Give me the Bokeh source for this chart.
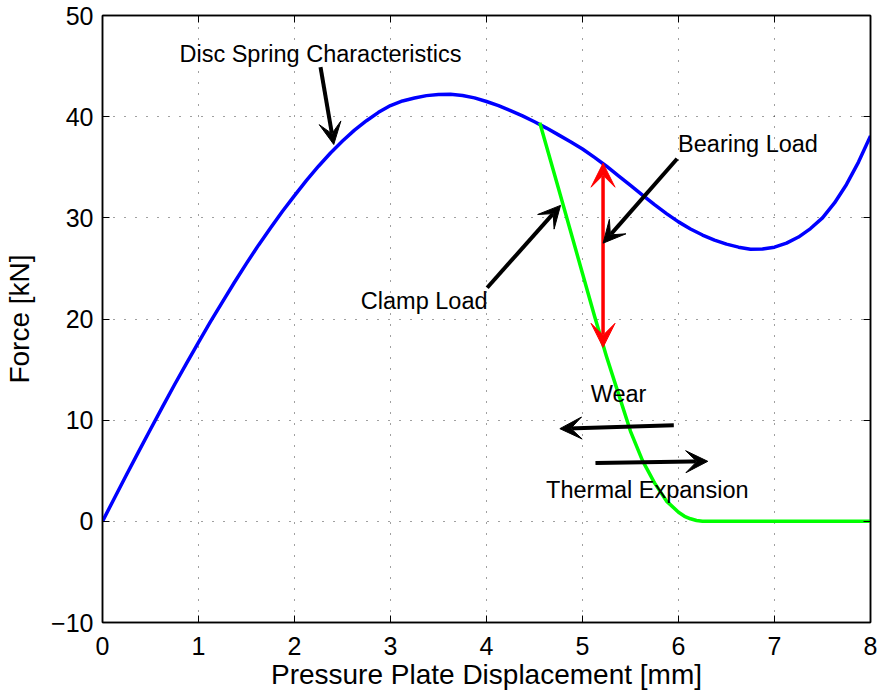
from bokeh.plotting import figure
from bokeh.models import Arrow, VeeHead, FixedTicker, LinearAxis, Range1d, ColumnDataSource
from bokeh.embed import file_html
from bokeh.resources import INLINE
from bokeh.core.properties import value

# Disc spring characteristic (blue)
spring_x = [0, 0.125, 0.25, 0.375, 0.5, 0.625, 0.75, 0.875, 1, 1.125, 1.25, 1.375, 1.5, 1.625, 1.75, 1.875,
            2, 2.125, 2.25, 2.375, 2.5, 2.625, 2.75, 2.875, 3, 3.125, 3.25, 3.375, 3.5, 3.625, 3.75, 3.875,
            4, 4.125, 4.25, 4.375, 4.5, 4.625, 4.75, 4.875, 5, 5.125, 5.25, 5.375, 5.5, 5.625, 5.75, 5.875,
            6, 6.125, 6.25, 6.375, 6.5, 6.625, 6.75, 6.875, 7, 7.125, 7.25, 7.375, 7.5, 7.625, 7.75, 7.875, 8]
spring_y = [0, 2.31, 4.6, 6.86, 9.1, 11.31, 13.5, 15.62, 17.7, 19.73, 21.7, 23.63, 25.5, 27.3, 29.0, 30.65,
            32.2, 33.7, 35.1, 36.41, 37.6, 38.67, 39.6, 40.43, 41.1, 41.55, 41.85, 42.08, 42.2, 42.21, 42.1, 41.86,
            41.5, 41.09, 40.6, 40.08, 39.5, 38.87, 38.2, 37.52, 36.8, 35.97, 35.1, 34.15, 33.2, 32.25, 31.3, 30.42,
            29.6, 28.9, 28.3, 27.8, 27.4, 27.1, 26.9, 26.91, 27.1, 27.5, 28.1, 28.94, 30.0, 31.47, 33.3, 35.51, 38.1]

# Clamp load (green)
clamp_x = [4.555, 4.75, 5.0, 5.125, 5.25, 5.375, 5.5, 5.625, 5.75, 5.875, 6.0, 6.0625, 6.125, 6.1875, 6.25, 8.0]
clamp_y = [39.4, 32.9, 24.5, 20.3, 16.3, 12.6, 8.9, 6.0, 3.8, 2.0, 0.9, 0.5, 0.25, 0.08, 0.0, 0.0]

# Annotation texts (data coordinates, baseline)
note_text = ["Disc Spring Characteristics", "Clamp Load", "Bearing Load", "Wear", "Thermal Expansion"]
note_x = [2.271, 3.351, 6.724, 5.375, 5.675]
note_y = [46.2, 21.75, 37.25, 12.6, 3.05]

# Black arrows: start -> end (head at end)
arrow_x0 = [2.271, 4.007, 5.986, 5.951, 5.135]
arrow_y0 = [44.9, 23.09, 35.84, 9.49, 5.76]
arrow_x1 = [2.409, 4.771, 5.215, 4.764, 6.305]
arrow_y1 = [37.25, 31.23, 27.5, 9.16, 5.93]

# Red double arrow (bearing load range)
bearing_x = [5.214, 5.214]
bearing_y = [17.2, 35.4]

x_ticks = [0, 1, 2, 3, 4, 5, 6, 7, 8]
y_ticks = [-10, 0, 10, 20, 30, 40, 50]

FONT = "Liberation Sans"

p = figure(width=880, height=696, x_range=Range1d(0, 8), y_range=Range1d(-10, 50),
           output_backend="svg", toolbar_location=None,
           min_border_left=102, min_border_right=10, min_border_top=15, min_border_bottom=74)
p.background_fill_color = "white"
p.border_fill_color = "white"
p.outline_line_color = "black"
p.outline_line_width = 1.5

for ax in (p.xaxis[0], p.yaxis[0]):
    ax.major_tick_in = 7
    ax.major_tick_out = 0
    ax.minor_tick_line_color = None
    ax.axis_line_color = "black"
    ax.axis_line_width = 1.5
    ax.major_tick_line_color = "black"
    ax.major_label_text_font = FONT
    ax.major_label_text_font_size = "25px"
    ax.major_label_text_color = "black"
    ax.axis_label_text_font = FONT
    ax.axis_label_text_font_size = "28px"
    ax.axis_label_text_font_style = "normal"
    ax.axis_label_text_color = "black"

p.xaxis[0].ticker = FixedTicker(ticks=x_ticks)
p.yaxis[0].ticker = FixedTicker(ticks=y_ticks)
p.yaxis[0].major_label_overrides = {t: ("\u2212" + str(-t) if t < 0 else str(t)) for t in y_ticks}
p.xaxis[0].axis_label = "Pressure Plate Displacement [mm]"
p.yaxis[0].axis_label = "Force [kN]"
p.xaxis[0].major_label_standoff = 14
p.xaxis[0].axis_label_standoff = 1
p.yaxis[0].major_label_standoff = 9
p.yaxis[0].axis_label_standoff = 13

def frame_axis(ticks):
    return LinearAxis(ticker=FixedTicker(ticks=ticks), major_label_text_font_size="1px",
                      major_label_text_color=None, major_label_standoff=0,
                      major_tick_in=7, major_tick_out=0, minor_tick_line_color=None,
                      axis_line_color="black", axis_line_width=1.5)

p.add_layout(frame_axis(x_ticks), "above")
p.add_layout(frame_axis(y_ticks), "right")

for g in (p.xgrid[0], p.ygrid[0]):
    g.grid_line_color = "black"
    g.grid_line_alpha = 0.75
    g.grid_line_width = 1
    g.grid_line_dash = "1 10"
p.xgrid[0].ticker = FixedTicker(ticks=x_ticks)
p.ygrid[0].ticker = FixedTicker(ticks=y_ticks)

p.line(spring_x, spring_y, line_color="#0000ff", line_width=3.5, line_join="round")
p.line(clamp_x, clamp_y, line_color="#00ff00", line_width=3.5, line_join="round")

# red double arrow
p.add_layout(Arrow(x_start=bearing_x[0], y_start=bearing_y[0], x_end=bearing_x[1], y_end=bearing_y[1],
                   line_color="#ff0000", line_width=3.5,
                   start=VeeHead(size=24, fill_color="#ff0000", line_color="#ff0000", line_width=1),
                   end=VeeHead(size=24, fill_color="#ff0000", line_color="#ff0000", line_width=1)))

for xs, ys, xe, ye in zip(arrow_x0, arrow_y0, arrow_x1, arrow_y1):
    p.add_layout(Arrow(x_start=xs, y_start=ys, x_end=xe, y_end=ye,
                       line_color="black", line_width=4,
                       end=VeeHead(size=22, fill_color="black", line_color="black", line_width=1)))

src = ColumnDataSource(dict(x=note_x, y=note_y, t=note_text))
p.text(x="x", y="y", text="t", source=src, text_font=value(FONT), text_font_size="23.5px",
       text_align="center", text_baseline="alphabetic", text_color="black")

open("out.html", "w").write(file_html(p, INLINE))
